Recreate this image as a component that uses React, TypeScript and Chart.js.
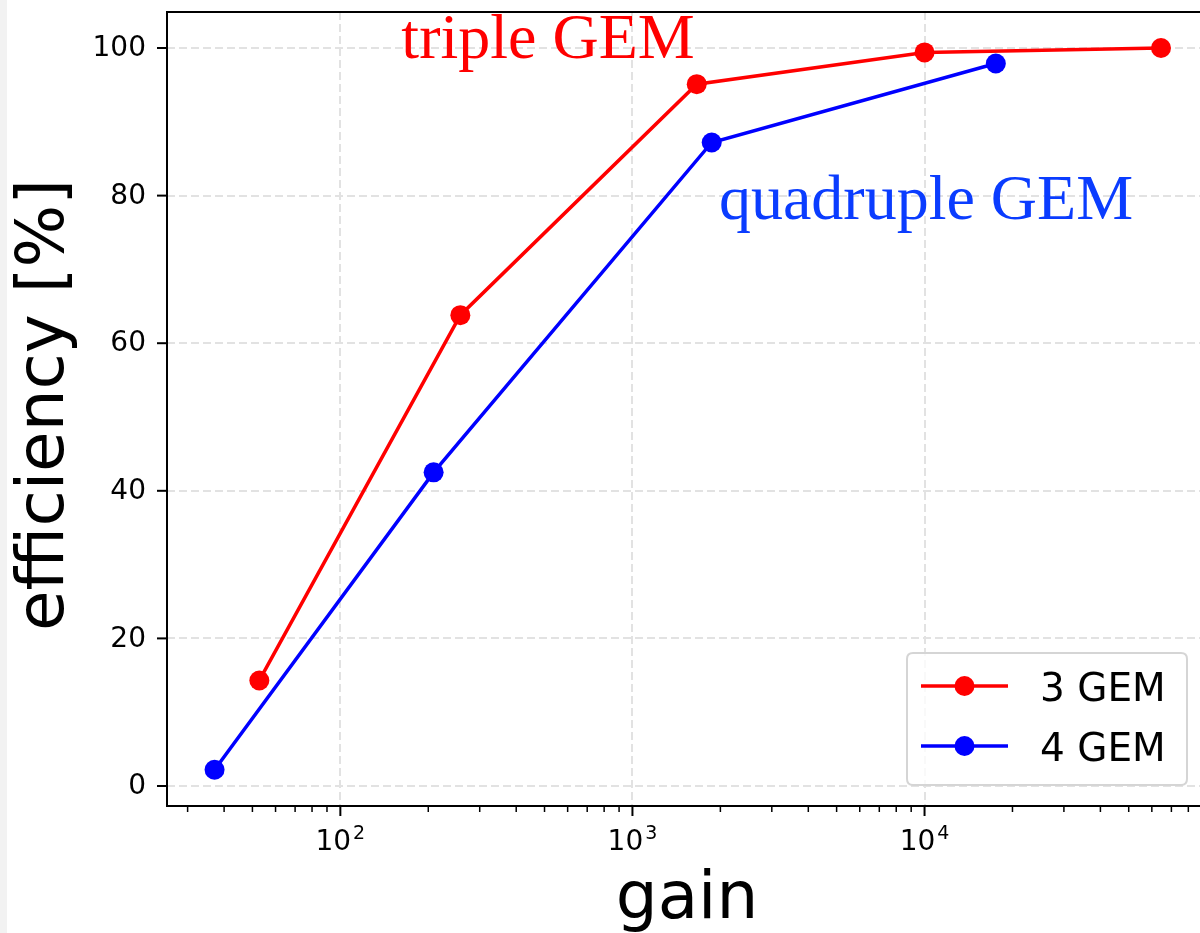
import React, { useEffect, useRef } from "react";
import { Chart, registerables } from "chart.js";

Chart.register(...registerables);

// Detection efficiency vs. effective gain for triple and quadruple GEM stacks
const gain3GEM = [52.8, 257.5, 1660, 10000, 64500];
const eff3GEM = [14.3, 63.8, 95.1, 99.4, 100];
const gain4GEM = [37.1, 208.6, 1868, 17540];
const eff4GEM = [2.2, 42.5, 87.2, 97.9];

const seriesLabels = ["3 GEM", "4 GEM"];
const seriesColors = ["#ff0000", "#0000ff"];

const yTickValues = [0, 20, 40, 60, 80, 100];
const xMajorTicks = [100, 1000, 10000];
const xMajorExponents = ["2", "3", "4"];
const xMinorMultipliers = [2, 3, 4, 5, 6, 7, 8, 9];
const xMinorDecades = [10, 100, 1000, 10000];

const X_MIN = 25.5;
const X_MAX = 94900;
const Y_MIN = -2.71;
const Y_MAX = 104.88;

const SANS = "'DejaVu Sans', sans-serif";
const SERIF = "'Liberation Serif', 'Times New Roman', serif";

const toPoints = (xs: number[], ys: number[]) =>
  xs.map((x, i) => ({ x, y: ys[i] }));

const decorPlugin = {
  id: "decor",
  beforeDatasetsDraw(chart: any) {
    const { ctx, chartArea: a, scales } = chart;
    const xs = scales.x;
    const ys = scales.y;
    ctx.save();
    // dashed grid
    ctx.strokeStyle = "#e2e2e2";
    ctx.lineWidth = 2;
    ctx.setLineDash([8, 4]);
    yTickValues.forEach((v) => {
      const py = Math.round(ys.getPixelForValue(v));
      ctx.beginPath();
      ctx.moveTo(a.left, py);
      ctx.lineTo(a.right, py);
      ctx.stroke();
    });
    xMajorTicks.forEach((v) => {
      const px = Math.round(xs.getPixelForValue(v));
      ctx.beginPath();
      ctx.moveTo(px, a.top);
      ctx.lineTo(px, a.bottom);
      ctx.stroke();
    });
    ctx.setLineDash([]);
    ctx.restore();
  },
  afterDatasetsDraw(chart: any) {
    const { ctx, chartArea: a, scales } = chart;
    const xs = scales.x;
    const ys = scales.y;
    ctx.save();

    // axes frame
    ctx.strokeStyle = "#000";
    ctx.lineWidth = 2;
    ctx.beginPath();
    ctx.moveTo(a.right, a.top);
    ctx.lineTo(a.left, a.top);
    ctx.lineTo(a.left, a.bottom);
    ctx.lineTo(a.right, a.bottom);
    ctx.lineTo(a.right, a.top);
    ctx.stroke();

    // y ticks and labels
    ctx.fillStyle = "#000";
    ctx.font = `28px ${SANS}`;
    ctx.textAlign = "right";
    ctx.textBaseline = "middle";
    yTickValues.forEach((v) => {
      const py = ys.getPixelForValue(v);
      ctx.beginPath();
      ctx.moveTo(a.left, py);
      ctx.lineTo(a.left - 10, py);
      ctx.stroke();
      ctx.fillText(String(v), a.left - 21, py + 1);
    });

    // x minor ticks
    ctx.lineWidth = 1.5;
    xMinorDecades.forEach((d) => {
      xMinorMultipliers.forEach((m) => {
        const v = d * m;
        if (v < X_MIN || v > X_MAX) return;
        const px = xs.getPixelForValue(v);
        ctx.beginPath();
        ctx.moveTo(px, a.bottom);
        ctx.lineTo(px, a.bottom + 6);
        ctx.stroke();
      });
    });

    // x major ticks with power-of-ten labels
    ctx.lineWidth = 2;
    xMajorTicks.forEach((v, i) => {
      const px = xs.getPixelForValue(v);
      ctx.beginPath();
      ctx.moveTo(px, a.bottom);
      ctx.lineTo(px, a.bottom + 10);
      ctx.stroke();
      ctx.textBaseline = "alphabetic";
      ctx.textAlign = "left";
      ctx.font = `28px ${SANS}`;
      const wBase = ctx.measureText("10").width;
      ctx.font = `19px ${SANS}`;
      const wExp = ctx.measureText(xMajorExponents[i]).width;
      const x0 = px - (wBase + 2 + wExp) / 2;
      ctx.font = `28px ${SANS}`;
      ctx.fillText("10", x0, a.bottom + 44);
      ctx.font = `19px ${SANS}`;
      ctx.fillText(xMajorExponents[i], x0 + wBase + 2, a.bottom + 33);
    });

    // axis titles
    ctx.font = `66px ${SANS}`;
    ctx.textAlign = "center";
    ctx.textBaseline = "alphabetic";
    ctx.fillText("gain", 687, 918);
    ctx.save();
    ctx.translate(63, 405);
    ctx.rotate(-Math.PI / 2);
    ctx.fillText("efficiency [%]", 0, 0);
    ctx.restore();

    // in-plot annotations
    ctx.font = `64px ${SERIF}`;
    ctx.textAlign = "center";
    ctx.fillStyle = "#ff0000";
    ctx.fillText("triple GEM", 548, 58);
    ctx.fillStyle = "#0a3cff";
    ctx.fillText("quadruple GEM", 926, 219);

    // legend box
    const bx = 907, by = 653, bw = 280, bh = 132, r = 6;
    ctx.beginPath();
    ctx.moveTo(bx + r, by);
    ctx.lineTo(bx + bw - r, by);
    ctx.quadraticCurveTo(bx + bw, by, bx + bw, by + r);
    ctx.lineTo(bx + bw, by + bh - r);
    ctx.quadraticCurveTo(bx + bw, by + bh, bx + bw - r, by + bh);
    ctx.lineTo(bx + r, by + bh);
    ctx.quadraticCurveTo(bx, by + bh, bx, by + bh - r);
    ctx.lineTo(bx, by + r);
    ctx.quadraticCurveTo(bx, by, bx + r, by);
    ctx.closePath();
    ctx.fillStyle = "rgba(255,255,255,0.8)";
    ctx.fill();
    ctx.strokeStyle = "#d5d5d5";
    ctx.lineWidth = 2;
    ctx.stroke();

    const rows = [686, 746];
    seriesLabels.forEach((lbl, i) => {
      const cy = rows[i];
      ctx.strokeStyle = seriesColors[i];
      ctx.lineWidth = 3.5;
      ctx.beginPath();
      ctx.moveTo(921, cy);
      ctx.lineTo(1008, cy);
      ctx.stroke();
      ctx.fillStyle = seriesColors[i];
      ctx.beginPath();
      ctx.arc(964.5, cy, 10, 0, Math.PI * 2);
      ctx.fill();
      ctx.fillStyle = "#000";
      ctx.font = `39px ${SANS}`;
      ctx.textAlign = "left";
      ctx.textBaseline = "alphabetic";
      ctx.fillText(lbl, 1040, cy + 14.5);
    });

    ctx.restore();
  },
};

export default function App() {
  const canvasRef = useRef<HTMLCanvasElement | null>(null);

  useEffect(() => {
    const canvas = canvasRef.current;
    if (!canvas) return;
    const chart = new Chart(canvas, {
      type: "line",
      data: {
        datasets: [
          {
            label: seriesLabels[0],
            data: toPoints(gain3GEM, eff3GEM),
            borderColor: seriesColors[0],
            backgroundColor: seriesColors[0],
            pointBackgroundColor: seriesColors[0],
            borderWidth: 3.5,
            pointRadius: 10,
            pointBorderWidth: 0,
            tension: 0,
          },
          {
            label: seriesLabels[1],
            data: toPoints(gain4GEM, eff4GEM),
            borderColor: seriesColors[1],
            backgroundColor: seriesColors[1],
            pointBackgroundColor: seriesColors[1],
            borderWidth: 3.5,
            pointRadius: 10,
            pointBorderWidth: 0,
            tension: 0,
          },
        ],
      },
      options: {
        responsive: false,
        animation: false,
        devicePixelRatio: 1,
        layout: { padding: { left: 0, top: 12, right: 10, bottom: 0 } },
        plugins: {
          legend: { display: false },
          tooltip: { enabled: false },
        },
        scales: {
          x: {
            type: "logarithmic",
            position: "bottom",
            min: X_MIN,
            max: X_MAX,
            ticks: { display: false },
            grid: { display: false },
            border: { display: false },
            afterFit: (s: any) => {
              s.height = 127;
            },
          },
          y: {
            type: "linear",
            min: Y_MIN,
            max: Y_MAX,
            ticks: { display: false },
            grid: { display: false },
            border: { display: false },
            afterFit: (s: any) => {
              s.width = 167;
            },
          },
        },
      },
      plugins: [decorPlugin],
    } as any);
    return () => chart.destroy();
  }, []);

  return (
    <div
      style={{
        position: "fixed",
        left: 0,
        top: 0,
        width: 1200,
        height: 933,
        overflow: "hidden",
        background: "#fff",
      }}
    >
      <canvas
        ref={canvasRef}
        width={1220}
        height={933}
        style={{ display: "block", width: 1220, height: 933 }}
      />
      <div
        style={{
          position: "absolute",
          left: 0,
          top: 0,
          width: 7,
          height: 933,
          background: "#f2f2f2",
        }}
      />
    </div>
  );
}
